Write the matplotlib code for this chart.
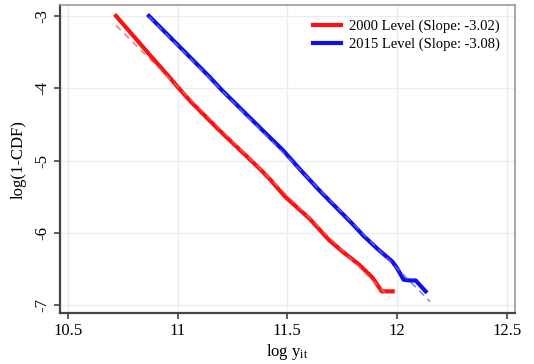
import matplotlib.pyplot as plt

x_2000 = [10.72, 10.80, 10.90, 10.964, 11.00, 11.062, 11.19, 11.373, 11.418, 11.49,
          11.60, 11.69, 11.76, 11.827, 11.888, 11.93, 11.98]
y_2000 = [-3.00, -3.28, -3.63, -3.85, -3.98, -4.19, -4.58, -5.11, -5.25, -5.50,
          -5.80, -6.10, -6.28, -6.44, -6.62, -6.81, -6.81]

x_2015 = [10.87, 11.07, 11.145, 11.20, 11.31, 11.40, 11.478, 11.56, 11.645, 11.70,
          11.782, 11.85, 11.91, 11.979, 12.00, 12.03, 12.06, 12.085, 12.13]
y_2015 = [-3.00, -3.61, -3.84, -4.02, -4.35, -4.62, -4.85, -5.13, -5.41, -5.58,
          -5.83, -6.05, -6.22, -6.40, -6.49, -6.65, -6.66, -6.66, -6.81]

# Fitted lines (slope from legend, intercept)
slope_2000, icpt_2000, span_2000 = -3.02, 29.244, [10.72, 11.965]
slope_2015, icpt_2015, span_2015 = -3.08, 30.47, [10.87, 12.15]

labels = ['2000 Level (Slope: -3.02)', '2015 Level (Slope: -3.08)']

plt.rcParams['font.family'] = ['Liberation Serif', 'DejaVu Serif']
plt.rcParams['mathtext.fontset'] = 'custom'
plt.rcParams['mathtext.rm'] = 'Liberation Serif'
plt.rcParams['mathtext.it'] = 'Liberation Serif'

fig = plt.figure(figsize=(5.34, 3.64), dpi=100)
ax = fig.add_axes([0.112, 0.140, 0.852, 0.846])

ax.plot(x_2000, y_2000, color='#ff1010', lw=3, label=labels[0], zorder=3)
ax.plot(x_2015, y_2015, color='#1010ee', lw=3, label=labels[1], zorder=3)

fit_2000 = [icpt_2000 + slope_2000 * v for v in span_2000]
fit_2015 = [icpt_2015 + slope_2015 * v for v in span_2015]
ax.plot(span_2000, fit_2000, color='#e06a6a', lw=1.2, ls=(0, (4, 3)), alpha=0.8, zorder=4)
ax.plot(span_2015, fit_2015, color='#6a6ae0', lw=1.2, ls=(0, (4, 3)), alpha=0.8, zorder=4)

ax.set_xlim(10.464, 12.536)
ax.set_ylim(-7.11, -2.85)
ax.set_xticks([10.5, 11, 11.5, 12, 12.5])
ax.set_xticklabels(['10.5', '11', '11.5', '12', '12.5'])
ax.set_yticks([-7, -6, -5, -4, -3])
ax.set_yticklabels(['-7', '-6', '-5', '-4', '-3'], rotation=90, va='center')
ax.grid(True, color='#e6eff4', lw=1)
ax.set_axisbelow(True)

ax.tick_params(labelsize=12, length=4, width=1.2, color='#444444', pad=3)
for side in ['left', 'bottom']:
    ax.spines[side].set_color('#444444')
    ax.spines[side].set_linewidth(1.6)
for side in ['top', 'right']:
    ax.spines[side].set_color('#9a9a9a')
    ax.spines[side].set_linewidth(1.2)

ax.set_xlabel(r'log y$_{\mathrm{it}}$', fontsize=12, labelpad=2)
ax.set_ylabel('log(1-CDF)', fontsize=12, labelpad=5)

ax.legend(loc='upper right', frameon=False, fontsize=10.5, handlelength=1.9,
          handletextpad=0.6, labelspacing=0.3, borderaxespad=0.6)

fig.savefig('out.png', dpi=100)
